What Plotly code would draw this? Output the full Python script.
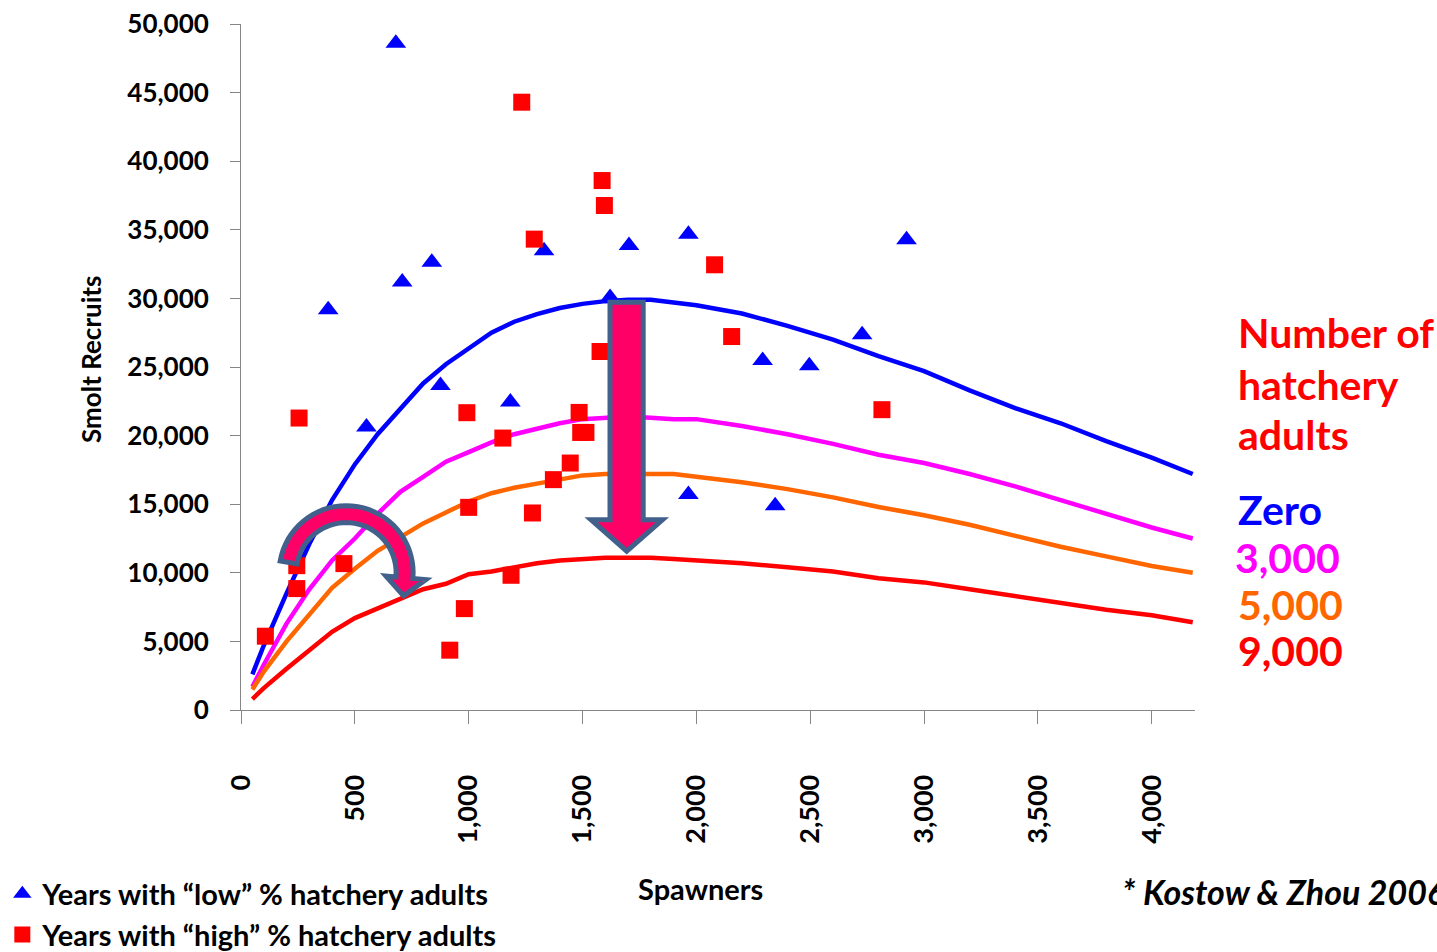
import numpy as np
import plotly.graph_objects as go

# ---------------- data ----------------
low_x = [383, 551, 680, 708, 838, 876, 1183, 1331, 1621, 1704, 1965, 1965, 2291, 2346, 2496, 2728, 2923]
low_y = [29170, 20630, 48600, 31200, 32640, 23660, 22450, 33470, 30070, 33850, 34680, 15700, 25480, 14890, 25090, 27350, 34270]

high_x = [107, 245, 245, 255, 452, 917, 981, 992, 1000, 1150, 1186, 1233, 1280, 1288, 1372, 1446,
          1485, 1492, 1515, 1577, 1586, 1596, 2080, 2155, 2815]
high_y = [5380, 8850, 10520, 21280, 10670, 4360, 7390, 21670, 14770, 19820, 9820, 44300, 14360, 34320, 16790, 18000,
          21690, 20230, 20230, 26130, 38590, 36770, 32450, 27220, 21890]

curve_x = [50, 100, 200, 300, 400, 500, 600, 700, 800, 900, 1000, 1100, 1200, 1300, 1400, 1500, 1600, 1700,
           1800, 1900, 2000, 2200, 2400, 2600, 2800, 3000, 3200, 3400, 3600, 3800, 4000, 4180]
curve_zero = [2600, 4700, 8500, 12100, 15300, 17900, 20100, 22000, 23800, 25200, 26400, 27500, 28300, 28850, 29300,
              29600, 29800, 29900, 29900, 29700, 29500, 28900, 28000, 27000, 25800, 24700, 23300, 22000, 20900,
              19600, 18400, 17200]
curve_3000 = [1700, 3300, 6300, 8800, 10900, 12500, 14300, 15900, 17000, 18100, 18800, 19500, 20100, 20500, 20900,
              21200, 21300, 21400, 21300, 21200, 21200, 20700, 20100, 19400, 18600, 18000, 17200, 16300, 15300,
              14300, 13300, 12500]
curve_5000 = [1500, 2800, 5000, 7000, 8900, 10300, 11600, 12600, 13600, 14400, 15200, 15800, 16200, 16500, 16800,
              17100, 17200, 17200, 17200, 17200, 17000, 16600, 16100, 15500, 14800, 14200, 13500, 12700, 11900,
              11200, 10500, 10000]
curve_9000 = [800, 1600, 3000, 4400, 5700, 6700, 7400, 8100, 8800, 9200, 9900, 10100, 10400, 10700, 10900,
              11000, 11100, 11100, 11100, 11000, 10900, 10700, 10400, 10100, 9600, 9300, 8800, 8300, 7800,
              7300, 6900, 6400]

curve_names = ["Zero", "3,000", "5,000", "9,000"]
curve_colors = ["#0000FF", "#FF00FF", "#FF6600", "#FF0000"]

y_ticks = [0, 5000, 10000, 15000, 20000, 25000, 30000, 35000, 40000, 45000, 50000]
x_ticks = [0, 500, 1000, 1500, 2000, 2500, 3000, 3500, 4000]

# ---------------- layout geometry ----------------
W_FIG, H_FIG = 1437, 952
L, R_PX = 240.8, 1195.3
TOP, BOT = 24.0, 710.5
PW, PH = R_PX - L, BOT - TOP
FONT = "Lato"


def P(px, py):
    return f"{(px - L) / PW:.5f},{(BOT - py) / PH:.5f}"


def path(points):
    return "M " + " L ".join(P(x, y) for x, y in points) + " Z"


fig = go.Figure()

for ys, name, col in zip([curve_zero, curve_3000, curve_5000, curve_9000], curve_names, curve_colors):
    fig.add_trace(go.Scatter(x=curve_x, y=ys, mode="lines", name=name, showlegend=False,
                             line=dict(color=col, width=4.5), hoverinfo="skip"))

fig.add_trace(go.Scatter(x=low_x, y=low_y, mode="markers", name="Years with “low” % hatchery adults",
                         legendgroup="a",
                         marker=dict(symbol="triangle-up", size=18, color="#0000FF", line=dict(width=0))))
fig.add_trace(go.Scatter(x=high_x, y=high_y, mode="markers", name="Years with “high” % hatchery adults",
                         legendgroup="b",
                         marker=dict(symbol="square", size=17, color="#FF0000", line=dict(width=0))))

# ---------------- arrows (decoration) ----------------
ARROW_FILL = "#FF0066"
ARROW_LINE = "#41618C"

down_arrow = [(610, 302.5), (643.2, 302.5), (643.2, 520), (662.5, 520), (626.7, 551.5),
              (591, 520), (610, 520)]

cx, cy = 346, 573
ro, ri = 67, 50
ang = np.radians(np.arange(170, -6, -5))
outer = [(cx + ro * np.cos(a), cy - ro * np.sin(a)) for a in ang]
inner = [(cx + ri * np.cos(a), cy - ri * np.sin(a)) for a in ang[::-1]]
a_base, a_tip = np.radians(-5), np.radians(-22)
head = [(cx + 80 * np.cos(a_base), cy - 80 * np.sin(a_base)),
        (cx + 62 * np.cos(a_tip), cy - 62 * np.sin(a_tip)),
        (cx + 40 * np.cos(a_base), cy - 40 * np.sin(a_base))]
curved_arrow = outer + head + inner

shapes = []
for pts in (curved_arrow, down_arrow):
    shapes.append(dict(type="path", xref="paper", yref="paper", path=path(pts),
                       fillcolor=ARROW_FILL, line=dict(color=ARROW_LINE, width=5), layer="above"))

# ---------------- annotations ----------------
def ann(text, px, py, size, color="black", xanchor="left", angle=0, italic=False):
    return dict(text=text, xref="paper", yref="paper", x=(px - L) / PW, y=(BOT - py) / PH,
                xanchor=xanchor, yanchor="middle", showarrow=False, textangle=angle,
                font=dict(family=FONT, size=size, color=color, weight="bold",
                          style="italic" if italic else "normal"))


annotations = [
    ann("Number of", 1236, 333, 41, "#FF0000"),
    ann("hatchery", 1236, 385, 41, "#FF0000"),
    ann("adults", 1236, 435, 41, "#FF0000"),
    ann(curve_names[0], 1236, 510, 41, curve_colors[0]),
    ann(curve_names[1], 1233, 558, 41, curve_colors[1]),
    ann(curve_names[2], 1236, 605, 41, curve_colors[2]),
    ann(curve_names[3], 1236, 651, 41, curve_colors[3]),
    ann("Smolt Recruits", 90, 359, 26, angle=-90, xanchor="center"),
    ann("Spawners", 701, 889, 29, xanchor="center"),
    ann("* Kostow &amp; Zhou 2006", 1120, 892, 34, italic=True),
]

fig.update_layout(
    width=W_FIG, height=H_FIG,
    margin=dict(l=L, r=W_FIG - R_PX, t=TOP, b=H_FIG - BOT, autoexpand=False),
    paper_bgcolor="white", plot_bgcolor="white",
    shapes=shapes, annotations=annotations,
    showlegend=True,
    legend=dict(x=(2 - L) / PW, y=(BOT - 869) / PH, xanchor="left", yanchor="top",
                font=dict(family=FONT, size=29, color="black", weight="bold"),
                bgcolor="rgba(0,0,0,0)", tracegroupgap=0, itemsizing="trace", traceorder="grouped"),
    xaxis=dict(range=[0, 4190], tickvals=x_ticks, tickformat=",", tickangle=-90,
               showgrid=False, zeroline=False, showline=True, linecolor="#868686", linewidth=1,
               ticks="outside", ticklen=13, tickcolor="#868686", ticklabelstandoff=40,
               tickfont=dict(family=FONT, size=27, color="black", weight="bold")),
    yaxis=dict(range=[0, 50000], tickvals=y_ticks, tickformat=",",
               showgrid=False, zeroline=False, showline=True, linecolor="#868686", linewidth=1,
               ticks="outside", ticklen=10, tickcolor="#868686", ticklabelstandoff=16,
               tickfont=dict(family=FONT, size=26, color="black", weight="bold")),
)

fig.write_html("out.html", config={"displayModeBar": False},
               post_script="document.body.style.margin='0';document.body.style.overflow='hidden';")
